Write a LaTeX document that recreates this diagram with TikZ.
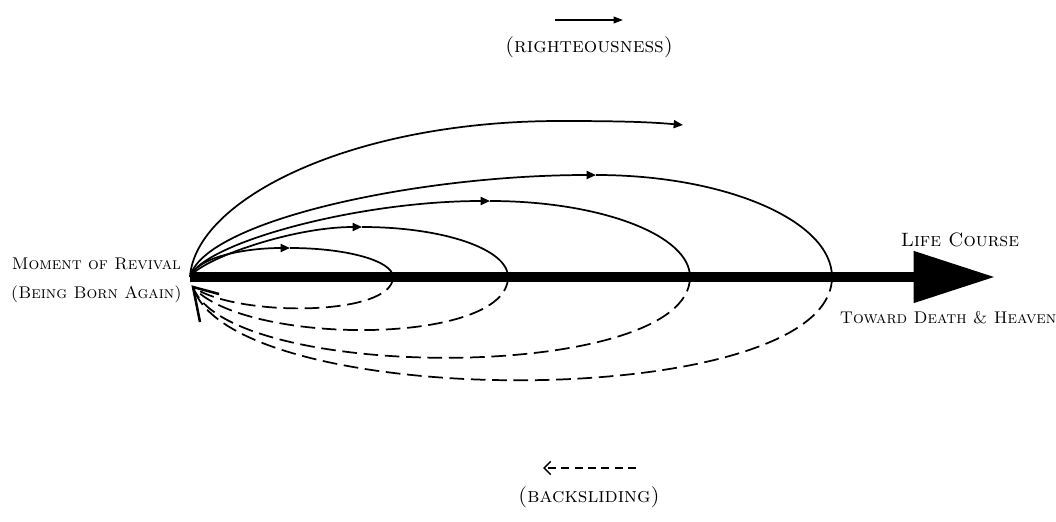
\documentclass[tikz,border=0pt]{standalone}
\usetikzlibrary{arrows.meta}

\begin{document}
\begin{tikzpicture}[
    x=0.75pt, y=-0.75pt,
    lbl/.style={font=\fontsize{12.7}{21.5}\selectfont, align=center, inner sep=0pt},
    keylbl/.style={font=\fontsize{15.8}{19}\selectfont, inner sep=0pt},
    good/.style={line width=1.3pt},
    goodend/.style={line width=1.3pt, -{Triangle[length=7pt,width=6pt]}},
    slide/.style={line width=1.3pt, dash pattern=on 11pt off 5pt},
    barb/.style={line width=1.9pt},
    lifeline/.style={line width=7.5pt, -{Triangle[length=61pt,width=37pt]}}
  ]
    \useasboundingbox (0,0) rectangle (1056,521);

    \coordinate (revival) at (190,277);
    \coordinate (heaven) at (995,277);
    \coordinate (back) at (193,287);
    \coordinate (barbA) at (219,294);
    \coordinate (barbB) at (200,322);
    \coordinate (peak1) at (290,248);
    \coordinate (peak2) at (362,227);
    \coordinate (peak3) at (490,201);
    \coordinate (peak4) at (596,175);
    \coordinate (peak5) at (560,121);
    \coordinate (turn1) at (393,277);
    \coordinate (turn2) at (508,277);
    \coordinate (turn3) at (690,277);
    \coordinate (turn4) at (832,277);
    \coordinate (reach) at (683,125);

    % righteousness loops
    \draw[goodend] (revival) .. controls (197,257) and (245,248) .. (peak1);
    \draw[good] (peak1) .. controls (347,248) and (393,261) .. (turn1);
    \draw[goodend] (revival) .. controls (200,260) and (290,227) .. (peak2);
    \draw[good] (peak2) .. controls (443,227) and (508,249) .. (turn2);
    \draw[goodend] (revival) .. controls (202,244) and (355,201) .. (peak3);
    \draw[good] (peak3) .. controls (600,201) and (690,235) .. (turn3);
    \draw[goodend] (revival) .. controls (203,222) and (413,175) .. (peak4);
    \draw[good] (peak4) .. controls (726,175) and (832,221) .. (turn4);
    \draw[good] (revival) .. controls (195,200) and (350,121) .. (peak5);
    \draw[goodend] (peak5) .. controls (620,121) and (650,122) .. (reach);

    % backsliding loops
    \draw[slide] (turn1) .. controls (393,317) and (235,317) .. (back);
    \draw[slide] (turn2) .. controls (508,346) and (245,346) .. (back);
    \draw[slide] (turn3) .. controls (690,383) and (228,383) .. (back);
    \draw[slide] (turn4) .. controls (832,413) and (232,413) .. (back);
    \draw[barb] (barbA) -- (back) -- (barbB);

    % life course
    \draw[lifeline] (revival) -- (heaven);

    \node[lbl, anchor=east] (moment) at (182,280)
      {\textsc{Moment of Revival}\\\textsc{(Being Born Again)}};
    \node[lbl, font=\fontsize{14.5}{17}\selectfont] (course) at (960,240) {\textsc{Life Course}};
    \node[lbl] (death) at (948,318) {\textsc{Toward Death \& Heaven}};

    % legend
    \coordinate (rightA) at (555,20);
    \coordinate (rightB) at (623,20);
    \draw[line width=1.1pt, -{Triangle[length=7pt,width=5pt]}] (rightA) -- (rightB);
    \node[keylbl] (righteous) at (589,47) {\textsc{(righteousness)}};
    \coordinate (slideA) at (636,468);
    \coordinate (slideB) at (543,468);
    \draw[line width=1.1pt, dash pattern=on 6pt off 4pt,
      -{Straight Barb[length=5pt,width=10pt]}] (slideA) -- (slideB);
    \node[keylbl] (backsliding) at (589,497) {\textsc{(backsliding)}};
  \end{tikzpicture}
\end{document}
